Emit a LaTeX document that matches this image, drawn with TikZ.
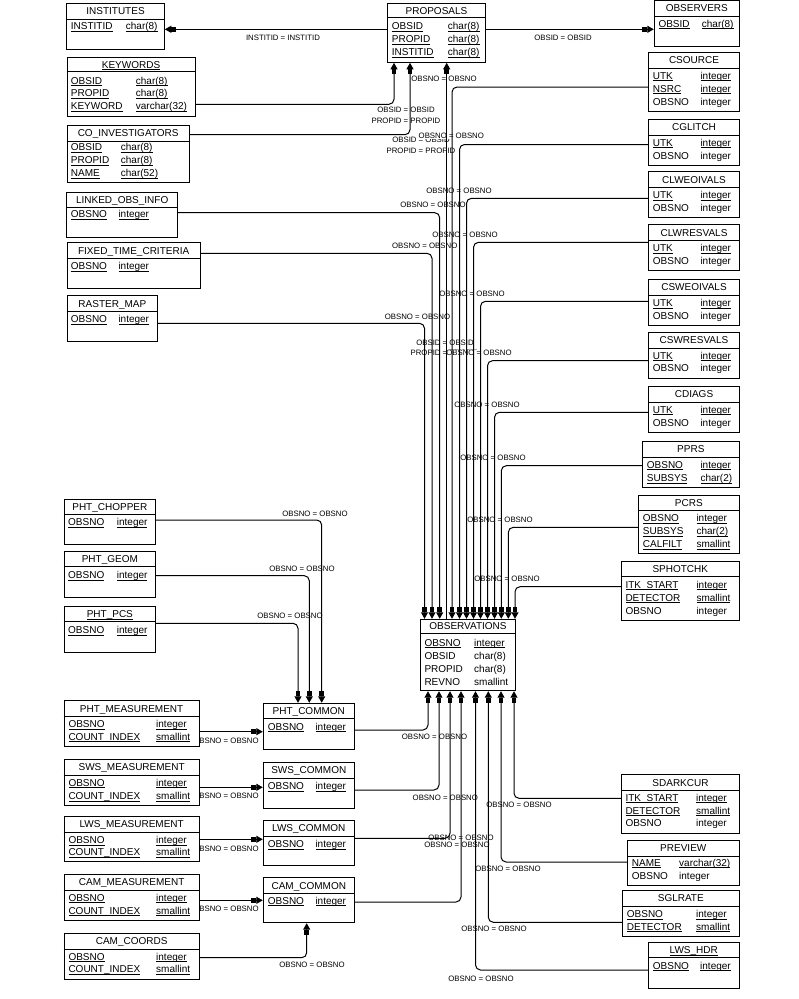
\documentclass[tikz,border=0pt]{standalone}
\usepackage{fontspec}
\setmainfont{Liberation Sans}
\usepackage{tikz}
\usetikzlibrary{arrows.meta, positioning, calc}
\pgfdeclarelayer{labels}
\pgfsetlayers{labels,main}

\tikzset{
    ent/.style={draw, fill=white, line width=1pt, inner sep=0pt},
    entname/.style={anchor=base, inner sep=0pt, font=\fontsize{10}{12}\selectfont},
    fld/.style={anchor=base west, inner sep=0pt, font=\fontsize{10}{12}\selectfont},
    rel/.style={line width=1pt, rounded corners=5pt, -{Rectangle[length=5pt,width=4.5pt,sharp]Triangle[length=6.5pt,width=7pt,sharp]}},
    rellab/.style={anchor=base, fill=white, inner sep=0.3pt, font=\fontsize{7.8}{9}\selectfont},
}

\begin{document}
\begin{tikzpicture}[x=1pt, y=-1pt]
        \newcommand{\uln}[1]{\setbox0\hbox{#1}\rlap{\rule[-1.8pt]{\wd0}{0.8pt}}\box0}
        % name, left, top, right, bottom, divider, title
        \newcommand{\entity}[7]{%
            \node[ent, minimum width={(#4)-(#2)}, minimum height={(#5)-(#3)}] (#1) at ({(#2+#4)/2},{(#3+#5)/2}) {};
            \draw[line width=1pt] (#1.west |- 0,#6) -- (#1.east |- 0,#6);
            \node[entname] (#1-t) at ({(#2+#4)/2},{(#3+#6)/2+3.6}) {#7};}
        % key rows (underlined) and plain rows
        \newcommand{\urow}[6]{%
            \node[fld] (#1n) at (#2,{#4+3.6}) {\uln{#5}};
            \node[fld] (#1t) at (#3,{#4+3.6}) {\uln{#6}};}
        \newcommand{\prow}[6]{%
            \node[fld] (#1n) at (#2,{#4+3.6}) {#5};
            \node[fld] (#1t) at (#3,{#4+3.6}) {#6};}

        \useasboundingbox (0,0) rectangle (799,999);

        % left column
        \entity{inst}{66.7}{3.3}{164.3}{49.3}{19}{INSTITUTES}
        \urow{inst-1}{70.7}{125.7}{26}{INSTITID}{char(8)}
        \entity{kw}{67}{57.3}{195}{116.7}{71.7}{\uln{KEYWORDS}}
        \urow{kw-1}{70.7}{135.7}{80.7}{OBSID}{char(8)}
        \urow{kw-2}{70.7}{135.7}{93.3}{PROPID}{char(8)}
        \urow{kw-3}{70.7}{135.7}{106.3}{KEYWORD}{varchar(32)}
        \entity{coi}{67}{125}{189.3}{182.3}{141}{CO\_INVESTIGATORS}
        \urow{coi-1}{70.7}{120.7}{147.3}{OBSID}{char(8)}
        \urow{coi-2}{70.7}{120.7}{160}{PROPID}{char(8)}
        \urow{coi-3}{70.7}{120.7}{173}{NAME}{char(52)}
        \entity{lnk}{66.7}{192.3}{177.7}{237.3}{207.7}{LINKED\_OBS\_INFO}
        \urow{lnk-1}{70.7}{118.3}{214}{OBSNO}{integer}
        \entity{fix}{67}{242.3}{200.3}{288.3}{258.7}{FIXED\_TIME\_CRITERIA}
        \urow{fix-1}{70.7}{118.3}{266}{OBSNO}{integer}
        \entity{rst}{67}{295.7}{157.7}{341.7}{311.7}{RASTER\_MAP}
        \urow{rst-1}{70.7}{118.3}{319}{OBSNO}{integer}

        % centre
        \entity{prop}{387.3}{3.3}{485.7}{62.3}{17.5}{PROPOSALS}
        \urow{prop-1}{391.7}{447.7}{26.3}{OBSID}{char(8)}
        \urow{prop-2}{391.7}{447.7}{39.3}{PROPID}{char(8)}
        \urow{prop-3}{391.7}{447.7}{52.3}{INSTITID}{char(8)}
        \entity{obs}{420.7}{619.3}{515.3}{690.7}{633.3}{OBSERVATIONS}
        \urow{obs-1}{424.3}{474}{642.7}{OBSNO}{integer}
        \prow{obs-2}{424.3}{474}{655.7}{OBSID}{char(8)}
        \prow{obs-3}{424.3}{474}{668.7}{PROPID}{char(8)}
        \prow{obs-4}{424.3}{474}{681.7}{REVNO}{smallint}

        % right column
        \entity{obsv}{654.3}{0.5}{739.3}{46}{16}{OBSERVERS}
        \urow{obsv-1}{658.3}{701.7}{23.7}{OBSID}{char(8)}
        \entity{csrc}{648.7}{52.3}{739.3}{111}{68.3}{CSOURCE}
        \urow{csrc-1}{652.7}{700.3}{75.7}{UTK}{integer}
        \urow{csrc-2}{652.7}{700.3}{88.7}{NSRC}{integer}
        \prow{csrc-3}{652.7}{700.3}{101.7}{OBSNO}{integer}
        \entity{cglt}{648.7}{119.3}{739.3}{165.3}{135.3}{CGLITCH}
        \urow{cglt-1}{652.7}{700.3}{142.7}{UTK}{integer}
        \prow{cglt-2}{652.7}{700.3}{155.7}{OBSNO}{integer}
        \entity{clwe}{648.7}{171.7}{739.3}{217.3}{187.3}{CLWEOIVALS}
        \urow{clwe-1}{652.7}{700.3}{195}{UTK}{integer}
        \prow{clwe-2}{652.7}{700.3}{207.7}{OBSNO}{integer}
        \entity{clwr}{648.7}{224.7}{739.3}{270.3}{240.3}{CLWRESVALS}
        \urow{clwr-1}{652.7}{700.3}{248}{UTK}{integer}
        \prow{clwr-2}{652.7}{700.3}{260.7}{OBSNO}{integer}
        \entity{cswe}{648.7}{279.3}{739.3}{325.3}{295.3}{CSWEOIVALS}
        \urow{cswe-1}{652.7}{700.3}{303}{UTK}{integer}
        \prow{cswe-2}{652.7}{700.3}{315.7}{OBSNO}{integer}
        \entity{cswr}{648.7}{332.7}{739.3}{378.3}{348}{CSWRESVALS}
        \urow{cswr-1}{652.7}{700.3}{355.7}{UTK}{integer}
        \prow{cswr-2}{652.7}{700.3}{368.3}{OBSNO}{integer}
        \entity{cdia}{648.7}{386.7}{739.3}{432.3}{402}{CDIAGS}
        \urow{cdia-1}{652.7}{700.3}{409.7}{UTK}{integer}
        \prow{cdia-2}{652.7}{700.3}{422.7}{OBSNO}{integer}
        \entity{pprs}{642.3}{441.3}{739.3}{487.3}{457}{PPRS}
        \urow{pprs-1}{646.7}{700.3}{464.7}{OBSNO}{integer}
        \urow{pprs-2}{646.7}{700.3}{478}{SUBSYS}{char(2)}
        \entity{pcrs}{638.3}{495.7}{739.3}{553.3}{510.7}{PCRS}
        \urow{pcrs-1}{642.7}{696.3}{518}{OBSNO}{integer}
        \urow{pcrs-2}{642.7}{696.3}{531}{SUBSYS}{char(2)}
        \urow{pcrs-3}{642.7}{696.3}{544}{CALFILT}{smallint}
        \entity{spht}{621.3}{561.7}{739.3}{620}{576.7}{SPHOTCHK}
        \urow{spht-1}{625.3}{696.3}{584.7}{ITK\_START}{integer}
        \urow{spht-2}{625.3}{696.3}{597.7}{DETECTOR}{smallint}
        \prow{spht-3}{625.3}{696.3}{610.7}{OBSNO}{integer}

        % photometer group
        \entity{phch}{64}{499.3}{155.7}{544.3}{514.3}{PHT\_CHOPPER}
        \urow{phch-1}{68}{116.7}{522.3}{OBSNO}{integer}
        \entity{phgm}{64}{551.3}{155.7}{597.3}{566.7}{PHT\_GEOM}
        \urow{phgm-1}{68}{116.7}{575}{OBSNO}{integer}
        \entity{phpc}{64}{606.7}{155.7}{652.3}{621.7}{\uln{PHT\_PCS}}
        \urow{phpc-1}{68}{116.7}{630}{OBSNO}{integer}
        \entity{phtc}{263.3}{703.3}{354.3}{749}{718.3}{PHT\_COMMON}
        \urow{phtc-1}{267.7}{315.3}{726.7}{OBSNO}{integer}

        % measurements
        \entity{phtm}{64}{700.7}{199.3}{746}{716.7}{PHT\_MEASUREMENT}
        \urow{phtm-1}{68.3}{156}{724.3}{OBSNO}{integer}
        \urow{phtm-2}{68.3}{156}{736.7}{COUNT\_INDEX}{smallint}
        \entity{swsm}{64}{759.3}{199.3}{805.7}{775}{SWS\_MEASUREMENT}
        \urow{swsm-1}{68.3}{156}{782.7}{OBSNO}{integer}
        \urow{swsm-2}{68.3}{156}{796}{COUNT\_INDEX}{smallint}
        \entity{swsc}{263.3}{762.3}{354.3}{808.3}{778.3}{SWS\_COMMON}
        \urow{swsc-1}{267.7}{315.3}{786}{OBSNO}{integer}
        \entity{lwsm}{64}{816.3}{199.3}{861.7}{832.3}{LWS\_MEASUREMENT}
        \urow{lwsm-1}{68.3}{156}{840}{OBSNO}{integer}
        \urow{lwsm-2}{68.3}{156}{852.3}{COUNT\_INDEX}{smallint}
        \entity{lwsc}{263.3}{820.7}{354.3}{865}{836}{LWS\_COMMON}
        \urow{lwsc-1}{267.7}{315.3}{844}{OBSNO}{integer}
        \entity{camm}{64}{874.3}{199.3}{920}{890}{CAM\_MEASUREMENT}
        \urow{camm-1}{68.3}{156}{897.7}{OBSNO}{integer}
        \urow{camm-2}{68.3}{156}{910.7}{COUNT\_INDEX}{smallint}
        \entity{camc}{263.3}{877.7}{354.3}{922.7}{893.3}{CAM\_COMMON}
        \urow{camc-1}{267.7}{315.3}{900.7}{OBSNO}{integer}
        \entity{camk}{64}{933.3}{199.3}{979.3}{949.3}{CAM\_COORDS}
        \urow{camk-1}{68.3}{156}{956.7}{OBSNO}{integer}
        \urow{camk-2}{68.3}{156}{969.3}{COUNT\_INDEX}{smallint}

        % lower right
        \entity{sdrk}{621.7}{774.3}{739.3}{833.3}{790.7}{SDARKCUR}
        \urow{sdrk-1}{625.3}{696}{797.7}{ITK\_START}{integer}
        \urow{sdrk-2}{625.3}{696}{810.7}{DETECTOR}{smallint}
        \prow{sdrk-3}{625.3}{696}{823.3}{OBSNO}{integer}
        \entity{prev}{627.3}{840.7}{739.3}{885.3}{856}{PREVIEW}
        \urow{prev-1}{631.7}{679}{862.7}{NAME}{varchar(32)}
        \prow{prev-2}{631.7}{679}{875.7}{OBSNO}{integer}
        \entity{sglr}{622.3}{890.7}{739.3}{936}{906}{SGLRATE}
        \urow{sglr-1}{626.7}{696}{914}{OBSNO}{integer}
        \urow{sglr-2}{626.7}{696}{926.7}{DETECTOR}{smallint}
        \entity{lhdr}{648.3}{942.3}{739.3}{988.3}{957.7}{\uln{LWS\_HDR}}
        \urow{lhdr-1}{652.7}{700}{965.7}{OBSNO}{integer}

        % relationships
        \draw[rel] (prop.west |- 0,29.3) -- (inst.east |- 0,29.3);
        \draw[rel] (prop.east |- 0,29.3) -- (obsv.west |- 0,29.3);
        \draw[rel] (kw.east |- 0,104.3) -| (prop.south -| 394,0);
        \draw[rel] (coi.east |- 0,134.7) -| (prop.south -| 410,0);
        \draw[rel] (obs.north -| 446.7,0) -- (prop.south -| 446.7,0);
        \draw[rel] (lnk.east |- 0,212.7) -| (obs.north -| 439.7,0);
        \draw[rel] (fix.east |- 0,253.3) -| (obs.north -| 432,0);
        \draw[rel] (rst.east |- 0,323.3) -| (obs.north -| 424.5,0);
        \draw[rel] (csrc.west |- 0,87) -| (obs.north -| 452,0);
        \draw[rel] (cglt.west |- 0,144.5) -| (obs.north -| 459.5,0);
        \draw[rel] (clwe.west |- 0,198.3) -| (obs.north -| 466.5,0);
        \draw[rel] (clwr.west |- 0,242.3) -| (obs.north -| 473.5,0);
        \draw[rel] (cswe.west |- 0,301.3) -| (obs.north -| 480.5,0);
        \draw[rel] (cswr.west |- 0,360.7) -| (obs.north -| 487.5,0);
        \draw[rel] (cdia.west |- 0,412.3) -| (obs.north -| 494.5,0);
        \draw[rel] (pprs.west |- 0,465.7) -| (obs.north -| 501.3,0);
        \draw[rel] (pcrs.west |- 0,527.3) -| (obs.north -| 508.3,0);
        \draw[rel] (spht.west |- 0,586.7) -| (obs.north -| 515,0);
        \draw[rel] (phch.east |- 0,520) -| (phtc.north -| 321.7,0);
        \draw[rel] (phgm.east |- 0,575.7) -| (phtc.north -| 309.3,0);
        \draw[rel] (phpc.east |- 0,623.3) -| (phtc.north -| 298,0);
        \draw[rel] (phtm.east |- 0,731.7) -- (phtc.west |- 0,731.7);
        \draw[rel] (swsm.east |- 0,787.3) -- (swsc.west |- 0,787.3);
        \draw[rel] (lwsm.east |- 0,839.3) -- (lwsc.west |- 0,839.3);
        \draw[rel] (camm.east |- 0,900.3) -- (camc.west |- 0,900.3);
        \draw[rel] (camk.east |- 0,957.7) -| (camc.south -| 306.7,0);
        \draw[rel] (phtc.east |- 0,730) -| (obs.south -| 428,0);
        \draw[rel] (swsc.east |- 0,790) -| (obs.south -| 439,0);
        \draw[rel] (lwsc.east |- 0,838.3) -| (obs.south -| 450,0);
        \draw[rel] (camc.east |- 0,902) -| (obs.south -| 461,0);
        \draw[rel] (lhdr.west |- 0,970) -| (obs.south -| 475.5,0);
        \draw[rel] (sglr.west |- 0,922.3) -| (obs.south -| 488.3,0);
        \draw[rel] (prev.west |- 0,862) -| (obs.south -| 501,0);
        \draw[rel] (sdrk.west |- 0,798.3) -| (obs.south -| 514,0);

        % join labels
        \begin{pgfonlayer}{labels}
        \node[rellab] (lb-inst) at (283,40.4) {INSTITID = INSTITID};
        \node[rellab] (lb-obsv) at (563,40.7) {OBSID = OBSID};
        \node[rellab] (lb-kw1) at (406,112.7) {OBSID = OBSID};
        \node[rellab] (lb-kw2) at (406,123.4) {PROPID = PROPID};
        \node[rellab] (lb-coi1) at (421,142.7) {OBSID = OBSID};
        \node[rellab] (lb-coi2) at (421,153) {PROPID = PROPID};
        \node[rellab] (lb-prop1) at (445,345.7) {OBSID = OBSID};
        \node[rellab] (lb-prop2) at (445,355.7) {PROPID = PROPID};
        \node[rellab] (lb-csrc) at (444,81) {OBSNO = OBSNO};
        \node[rellab] (lb-cglt) at (451.3,138.7) {OBSNO = OBSNO};
        \node[rellab] (lb-clwe) at (459,193.7) {OBSNO = OBSNO};
        \node[rellab] (lb-lnk) at (433,207.7) {OBSNO = OBSNO};
        \node[rellab] (lb-clwr) at (465,237.7) {OBSNO = OBSNO};
        \node[rellab] (lb-fix) at (424.7,248.4) {OBSNO = OBSNO};
        \node[rellab] (lb-cswe) at (472,296.7) {OBSNO = OBSNO};
        \node[rellab] (lb-rst) at (417.5,319.4) {OBSNO = OBSNO};
        \node[rellab] (lb-cswr) at (479,355.7) {OBSNO = OBSNO};
        \node[rellab] (lb-cdia) at (487,407.7) {OBSNO = OBSNO};
        \node[rellab] (lb-pprs) at (493,460.7) {OBSNO = OBSNO};
        \node[rellab] (lb-pcrs) at (500,522.7) {OBSNO = OBSNO};
        \node[rellab] (lb-spht) at (507,581.7) {OBSNO = OBSNO};
        \node[rellab] (lb-phch) at (315,516) {OBSNO = OBSNO};
        \node[rellab] (lb-phgm) at (302,571) {OBSNO = OBSNO};
        \node[rellab] (lb-phpc) at (290,618.7) {OBSNO = OBSNO};
        \node[rellab] (lb-phtm) at (226,743.4) {OBSNO = OBSNO};
        \node[rellab] (lb-swsm) at (226,798.7) {OBSNO = OBSNO};
        \node[rellab] (lb-lwsm) at (226,851.7) {OBSNO = OBSNO};
        \node[rellab] (lb-camm) at (226,911.7) {OBSNO = OBSNO};
        \node[rellab] (lb-camk) at (312,967.7) {OBSNO = OBSNO};
        \node[rellab] (lb-phtc) at (434.5,739.4) {OBSNO = OBSNO};
        \node[rellab] (lb-swsc) at (445.3,800) {OBSNO = OBSNO};
        \node[rellab] (lb-lwsc) at (461,840.7) {OBSNO = OBSNO};
        \node[rellab] (lb-camc) at (457,847.7) {OBSNO = OBSNO};
        \node[rellab] (lb-sdrk) at (519,807.7) {OBSNO = OBSNO};
        \node[rellab] (lb-prev) at (508,871.7) {OBSNO = OBSNO};
        \node[rellab] (lb-sglr) at (494,931.7) {OBSNO = OBSNO};
        \node[rellab] (lb-lhdr) at (481,981) {OBSNO = OBSNO};
        \end{pgfonlayer}
\end{tikzpicture}
\end{document}
